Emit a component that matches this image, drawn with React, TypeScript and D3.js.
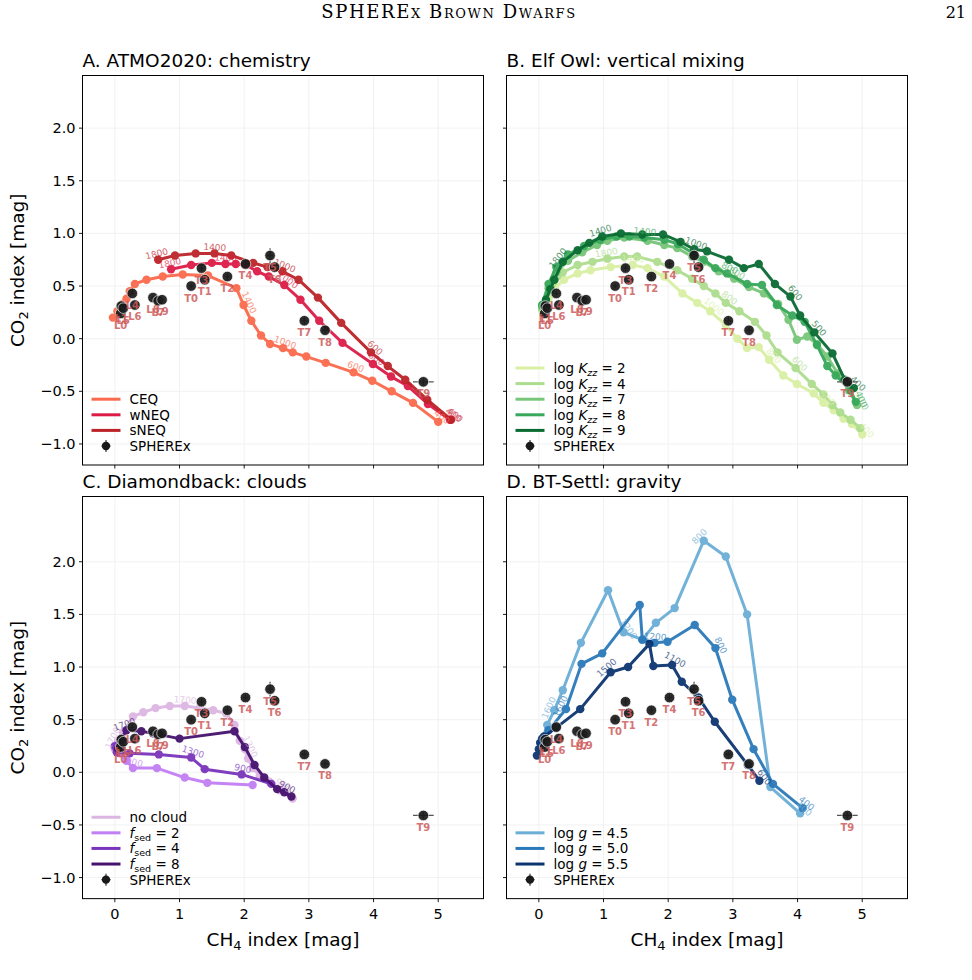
import React from "react";
import * as d3 from "d3";

const W = 972;
const H = 980;
const SANS = "'DejaVu Sans', sans-serif";

// SPHEREx spectral indices of the sample
const obsName = ["L0", "L1", "L5", "L4", "L6", "L8", "L7", "L9", "T0", "T3", "T1", "T2", "T4", "T5", "T6", "T7", "T8", "T9"];
const obsX = [0.09, 0.1, 0.13, 0.27, 0.31, 0.59, 0.67, 0.73, 1.18, 1.34, 1.39, 1.74, 2.02, 2.4, 2.47, 2.93, 3.25, 4.77];
const obsY = [0.24, 0.31, 0.29, 0.43, 0.32, 0.39, 0.36, 0.37, 0.5, 0.67, 0.56, 0.59, 0.71, 0.79, 0.68, 0.17, 0.08, -0.41];
const obsXErr = [0.03, 0.03, 0.03, 0.03, 0.03, 0.03, 0.03, 0.03, 0.03, 0.03, 0.03, 0.03, 0.04, 0.05, 0.04, 0.05, 0.05, 0.16];
const obsYErr = [0.02, 0.02, 0.02, 0.02, 0.02, 0.02, 0.02, 0.02, 0.02, 0.03, 0.03, 0.03, 0.03, 0.07, 0.03, 0.03, 0.03, 0.03];

// A. ATMO2020 chemistry grids
const ceqX = [-0.03, 0.04, 0.12, 0.18, 0.23, 0.31, 0.49, 0.74, 1.05, 1.44, 1.88, 1.99, 2.11, 2.26, 2.4, 2.6, 2.75, 2.96, 3.26, 3.69, 3.98, 4.28, 4.61, 5.0];
const ceqY = [0.2, 0.26, 0.33, 0.38, 0.45, 0.52, 0.56, 0.59, 0.61, 0.6, 0.48, 0.32, 0.17, 0.03, -0.05, -0.09, -0.13, -0.17, -0.23, -0.32, -0.4, -0.5, -0.61, -0.79];
const ceqTeff: [number, string][] = [[11, "1400"], [15, "1000"], [19, "600"], [23, "400"]];
const wneqX = [0.87, 1.18, 1.5, 1.71, 1.87, 2.03, 2.2, 2.38, 2.62, 2.87, 3.16, 3.52, 3.99, 4.27, 4.53, 4.84, 5.18];
const wneqY = [0.66, 0.7, 0.72, 0.71, 0.71, 0.7, 0.64, 0.59, 0.51, 0.37, 0.17, -0.04, -0.24, -0.36, -0.45, -0.62, -0.77];
const wneqTeff: [number, string][] = [[0, "1800"], [3, "1400"], [8, "1000"], [12, "600"], [16, "400"]];
const sneqX = [0.67, 0.93, 1.25, 1.54, 1.8, 2.14, 2.36, 2.59, 2.84, 3.14, 3.5, 3.96, 4.22, 4.49, 4.83, 5.2];
const sneqY = [0.75, 0.79, 0.81, 0.81, 0.79, 0.72, 0.68, 0.64, 0.56, 0.39, 0.15, -0.13, -0.26, -0.39, -0.58, -0.77];
const sneqTeff: [number, string][] = [[0, "1800"], [3, "1400"], [7, "1000"], [11, "600"], [15, "400"]];

// B. Elf Owl, log Kzz
const kzz2X = [0.05, 0.15, 0.25, 0.39, 0.6, 0.8, 1.11, 1.45, 1.68, 1.94, 2.22, 2.45, 2.65, 2.89, 3.07, 3.22, 3.4, 3.56, 3.78, 3.99, 4.25, 4.4, 4.56, 4.71, 4.84, 5.0];
const kzz2Y = [0.27, 0.38, 0.48, 0.56, 0.62, 0.65, 0.68, 0.7, 0.67, 0.59, 0.43, 0.34, 0.26, 0.13, 0.0, -0.09, -0.08, -0.2, -0.35, -0.43, -0.52, -0.61, -0.68, -0.76, -0.81, -0.91];
const kzz2Teff: [number, string][] = [[7, "1400"], [12, "1000"], [17, "800"], [21, "500"], [25, "400"]];
const kzz4X = [0.05, 0.18, 0.37, 0.6, 0.83, 1.06, 1.32, 1.52, 1.83, 2.14, 2.37, 2.55, 2.73, 2.89, 3.1, 3.34, 3.52, 3.69, 3.97, 4.22, 4.4, 4.54, 4.66, 4.82, 4.97];
const kzz4Y = [0.28, 0.45, 0.63, 0.7, 0.73, 0.76, 0.78, 0.78, 0.73, 0.65, 0.57, 0.5, 0.43, 0.34, 0.26, 0.16, 0.03, -0.13, -0.28, -0.43, -0.53, -0.63, -0.7, -0.77, -0.85];
const kzz4Teff: [number, string][] = [[5, "1800"], [13, "800"], [18, "600"]];
const kzz7X = [0.05, 0.15, 0.27, 0.45, 0.67, 0.9, 1.06, 1.32, 1.68, 1.94, 2.14, 2.37, 2.55, 2.78, 3.02, 3.25, 3.48, 3.7, 3.86, 3.99, 4.15, 4.3, 4.46, 4.62, 4.79, 4.92];
const kzz7Y = [0.3, 0.48, 0.63, 0.74, 0.82, 0.89, 0.93, 0.96, 0.93, 0.89, 0.86, 0.78, 0.73, 0.64, 0.57, 0.49, 0.43, 0.33, 0.18, -0.01, 0.02, -0.05, -0.17, -0.33, -0.49, -0.63];
const kzz7Teff: [number, string][] = [[14, "800"], [25, "400"]];
const kzz8X = [0.05, 0.15, 0.27, 0.45, 0.7, 0.95, 1.2, 1.4, 1.63, 1.94, 2.15, 2.39, 2.55, 2.73, 2.91, 3.22, 3.45, 3.68, 3.92, 4.11, 4.3, 4.46, 4.59, 4.82, 4.9];
const kzz8Y = [0.32, 0.52, 0.68, 0.8, 0.88, 0.94, 0.97, 0.97, 0.96, 0.94, 0.9, 0.81, 0.75, 0.67, 0.62, 0.52, 0.51, 0.32, 0.22, 0.16, -0.06, -0.26, -0.35, -0.49, -0.6];
const kzz8Teff: [number, string][] = [[8, "1400"], [14, "800"], [24, "400"]];
const kzz9X = [0.11, 0.18, 0.24, 0.37, 0.6, 0.78, 0.98, 1.27, 1.6, 1.92, 2.19, 2.4, 2.6, 2.94, 3.17, 3.4, 3.65, 3.89, 4.04, 4.26, 4.54, 4.73, 4.87];
const kzz9Y = [0.37, 0.47, 0.56, 0.73, 0.84, 0.91, 0.97, 1.0, 0.99, 0.99, 0.92, 0.85, 0.83, 0.75, 0.67, 0.71, 0.52, 0.4, 0.22, 0.06, -0.14, -0.39, -0.47];
const kzz9Teff: [number, string][] = [[3, "1800"], [6, "1400"], [11, "1000"], [17, "600"], [19, "500"], [22, "400"]];

// C. Diamondback, fsed
const noCloudX = [0.0, 0.05, 0.13, 0.28, 0.44, 0.63, 0.85, 1.08, 1.31, 1.52, 1.72, 1.85, 1.93, 2.01, 2.06, 2.13, 2.24, 2.39, 2.55, 2.75];
const noCloudY = [0.22, 0.3, 0.38, 0.53, 0.57, 0.61, 0.63, 0.63, 0.61, 0.59, 0.56, 0.45, 0.3, 0.22, 0.13, 0.04, -0.03, -0.09, -0.17, -0.25];
const noCloudTeff: [number, string][] = [[1, "1700"], [7, "1700"], [13, "1300"], [18, "900"]];
const fsed2X = [0.0, 0.08, 0.18, 0.28, 0.65, 1.08, 1.43, 2.13];
const fsed2Y = [0.24, 0.18, 0.11, 0.04, 0.04, -0.05, -0.1, -0.12];
const fsed2Teff: [number, string][] = [[3, "900"]];
const fsed4X = [0.0, 0.03, 0.23, 0.68, 1.18, 1.39, 1.96, 2.42];
const fsed4Y = [0.25, 0.19, 0.18, 0.17, 0.14, 0.03, -0.02, -0.11];
const fsed4Teff: [number, string][] = [[4, "1300"], [6, "900"]];
const fsed8X = [0.05, 0.1, 0.18, 0.41, 0.59, 1.0, 1.85, 2.01, 2.16, 2.31, 2.51, 2.62, 2.73];
const fsed8Y = [0.22, 0.32, 0.4, 0.39, 0.37, 0.32, 0.39, 0.24, 0.07, -0.05, -0.16, -0.19, -0.23];
const fsed8Teff: [number, string][] = [[2, "1700"], [11, "900"]];

// D. BT-Settl, log g
const g45X = [0.05, 0.13, 0.24, 0.37, 0.65, 1.07, 1.31, 1.6, 1.81, 2.1, 2.55, 2.89, 3.22, 3.58, 4.04];
const g45Y = [0.3, 0.45, 0.59, 0.78, 1.23, 1.73, 1.33, 1.26, 1.42, 1.56, 2.2, 2.05, 1.5, -0.14, -0.39];
const g45Teff: [number, string][] = [[2, "1600"], [6, "1200"], [10, "800"], [14, "400"]];
const g50X = [0.05, 0.15, 0.42, 0.66, 0.98, 1.56, 1.6, 1.79, 1.99, 2.41, 2.73, 2.99, 3.32, 3.62, 4.08];
const g50Y = [0.28, 0.4, 0.6, 1.03, 1.13, 1.59, 1.26, 1.23, 1.24, 1.4, 1.18, 0.69, 0.22, -0.11, -0.34];
const g50Teff: [number, string][] = [[2, "1600"], [7, "1200"], [10, "800"], [14, "400"]];
const g55X = [-0.03, 0.0, 0.02, 0.05, 0.08, 0.26, 0.64, 1.11, 1.38, 1.71, 1.77, 2.06, 2.21, 2.47, 2.72, 3.23, 3.41];
const g55Y = [0.16, 0.22, 0.28, 0.32, 0.34, 0.42, 0.6, 0.95, 1.0, 1.22, 1.01, 1.02, 0.86, 0.71, 0.48, 0.07, -0.08];
const g55Teff: [number, string][] = [[7, "1500"], [11, "1100"], [16, "600"]];

const xTicks = [0, 1, 2, 3, 4, 5];
const yTicks = [-1, -0.5, 0, 0.5, 1, 1.5, 2];
const xDomain = [-0.5, 5.7];
const yMin = -1.2;
const yMaxTop = 2.5;
const yMaxBottom = 2.62;

type Series = { label: React.ReactNode; color: string; x: number[]; y: number[]; teff: [number, string][] };

const logK = (v: number) => (
  <>
    <tspan>log </tspan>
    <tspan fontStyle="italic">K</tspan>
    <tspan fontStyle="italic" fontSize={9.5} dy={3}>zz</tspan>
    <tspan dy={-3}>{` = ${v}`}</tspan>
  </>
);
const fsed = (v: number) => (
  <>
    <tspan fontStyle="italic">f</tspan>
    <tspan fontSize={9.5} dy={3}>sed</tspan>
    <tspan dy={-3}>{` = ${v}`}</tspan>
  </>
);
const logG = (v: string) => (
  <>
    <tspan>log </tspan>
    <tspan fontStyle="italic">g</tspan>
    <tspan>{` = ${v}`}</tspan>
  </>
);

const panels: { title: string; left: number; top: number; yMax: number; series: Series[] }[] = [
  {
    title: "A. ATMO2020: chemistry",
    left: 82.5,
    top: 75.5,
    yMax: yMaxTop,
    series: [
      { label: "CEQ", color: "#fa6a4c", x: ceqX, y: ceqY, teff: ceqTeff },
      { label: "wNEQ", color: "#dc1c47", x: wneqX, y: wneqY, teff: wneqTeff },
      { label: "sNEQ", color: "#bb2329", x: sneqX, y: sneqY, teff: sneqTeff },
    ],
  },
  {
    title: "B. Elf Owl: vertical mixing",
    left: 506.5,
    top: 75.5,
    yMax: yMaxTop,
    series: [
      { label: logK(2), color: "#d9f0a3", x: kzz2X, y: kzz2Y, teff: kzz2Teff },
      { label: logK(4), color: "#addd8e", x: kzz4X, y: kzz4Y, teff: kzz4Teff },
      { label: logK(7), color: "#78c679", x: kzz7X, y: kzz7Y, teff: kzz7Teff },
      { label: logK(8), color: "#38a85a", x: kzz8X, y: kzz8Y, teff: kzz8Teff },
      { label: logK(9), color: "#0a6b32", x: kzz9X, y: kzz9Y, teff: kzz9Teff },
    ],
  },
  {
    title: "C. Diamondback: clouds",
    left: 82.5,
    top: 496.5,
    yMax: yMaxBottom,
    series: [
      { label: "no cloud", color: "#dcb6e2", x: noCloudX, y: noCloudY, teff: noCloudTeff },
      { label: fsed(2), color: "#c27ef4", x: fsed2X, y: fsed2Y, teff: fsed2Teff },
      { label: fsed(4), color: "#7a34bb", x: fsed4X, y: fsed4Y, teff: fsed4Teff },
      { label: fsed(8), color: "#45126e", x: fsed8X, y: fsed8Y, teff: fsed8Teff },
    ],
  },
  {
    title: "D. BT-Settl: gravity",
    left: 506.5,
    top: 496.5,
    yMax: yMaxBottom,
    series: [
      { label: logG("4.5"), color: "#6baed6", x: g45X, y: g45Y, teff: g45Teff },
      { label: logG("5.0"), color: "#2a79b9", x: g50X, y: g50Y, teff: g50Teff },
      { label: logG("5.5"), color: "#0c3570", x: g55X, y: g55Y, teff: g55Teff },
    ],
  },
];

const PW = 401;
const PX_PER_MAG = 105.27;

const fmt = (v: number) => (v < 0 ? "\u2212" : "") + Math.abs(v).toFixed(1);

function Panel({ p, idx }: { p: (typeof panels)[number]; idx: number }) {
  const PH = (p.yMax - yMin) * PX_PER_MAG;
  const x = d3.scaleLinear().domain(xDomain).range([p.left, p.left + PW]);
  const y = d3.scaleLinear().domain([yMin, p.yMax]).range([p.top + PH, p.top]);
  const bottom = p.top + PH;
  const showY = idx % 2 === 0;
  const showX = idx >= 2;
  const clipId = `clip${idx}`;

  const teffLabel = (s: Series, i: number, text: string, k: number) => {
    const i0 = Math.max(0, i - 1);
    const i1 = Math.min(s.x.length - 1, i + 1);
    const dx = x(s.x[i1]) - x(s.x[i0]);
    const dy = y(s.y[i1]) - y(s.y[i0]);
    let ang = (Math.atan2(dy, dx) * 180) / Math.PI;
    if (ang > 90) ang -= 180;
    if (ang < -90) ang += 180;
    const len = Math.hypot(dx, dy) || 1;
    let nx = dy / len;
    let ny = -dx / len;
    if (ny > 0) {
      nx = -nx;
      ny = -ny;
    }
    const px = x(s.x[i]) + nx * 6;
    const py = y(s.y[i]) + ny * 6;
    return (
      <text
        key={k}
        x={0}
        y={0}
        transform={`translate(${px},${py}) rotate(${ang})`}
        textAnchor="middle"
        dominantBaseline="central"
        fontSize={9}
        fill={s.color}
        opacity={0.7}
      >
        {text}
      </text>
    );
  };

  const line = (s: Series) =>
    d3
      .line<number>()
      .x((_, i) => x(s.x[i]))
      .y((v) => y(v))(s.y) ?? "";

  const nRows = p.series.length + 1;
  const rowY = (k: number) => bottom - 19 - (nRows - 1 - k) * 15.6;

  return (
    <g>
      <defs>
        <clipPath id={clipId}>
          <rect x={p.left} y={p.top} width={PW} height={PH} />
        </clipPath>
      </defs>
      <text x={p.left} y={p.top - 9} fontSize={18.5} fontFamily={SANS} fill="#000">
        {p.title}
      </text>
      <g stroke="#b0b0b0" strokeWidth={0.8} opacity={0.2}>
        {xTicks.map((t) => (
          <line key={`gx${t}`} x1={x(t)} x2={x(t)} y1={p.top} y2={bottom} />
        ))}
        {yTicks.map((t) => (
          <line key={`gy${t}`} x1={p.left} x2={p.left + PW} y1={y(t)} y2={y(t)} />
        ))}
      </g>
      <g clipPath={`url(#${clipId})`}>
        {p.series.map((s, si) => (
          <g key={si} opacity={0.95}>
            <path d={line(s)} fill="none" stroke={s.color} strokeWidth={3} strokeLinejoin="round" />
            {s.x.map((v, i) => (
              <circle key={i} cx={x(v)} cy={y(s.y[i])} r={4.2} fill={s.color} />
            ))}
          </g>
        ))}
        {p.series.map((s, si) => (
          <g key={`t${si}`} fontFamily={SANS}>
            {s.teff.map(([i, t], k) => teffLabel(s, i, t, k))}
          </g>
        ))}
        <g>
          {obsX.map((v, i) => (
            <g key={obsName[i]}>
              <line x1={x(v - obsXErr[i])} x2={x(v + obsXErr[i])} y1={y(obsY[i])} y2={y(obsY[i])} stroke="#555" strokeWidth={1.3} />
              <line x1={x(v)} x2={x(v)} y1={y(obsY[i] - obsYErr[i])} y2={y(obsY[i] + obsYErr[i])} stroke="#555" strokeWidth={1.3} />
              <circle cx={x(v)} cy={y(obsY[i])} r={5.3} fill="#1a1a1a" stroke="#fff" strokeWidth={0.7} opacity={0.92} />
            </g>
          ))}
          {obsX.map((v, i) => (
            <text
              key={`n${obsName[i]}`}
              x={x(v)}
              y={y(obsY[i]) + 15.5}
              textAnchor="middle"
              fontSize={10}
              fontWeight="bold"
              fontFamily={SANS}
              fill="#cd5c5c"
              opacity={0.85}
            >
              {obsName[i]}
            </text>
          ))}
        </g>
      </g>
      {/* legend */}
      <g fontFamily={SANS} fontSize={13.5} fill="#000">
        {p.series.map((s, k) => (
          <g key={k}>
            <line x1={p.left + 9} x2={p.left + 38} y1={rowY(k)} y2={rowY(k)} stroke={s.color} strokeWidth={3} />
            <text x={p.left + 47} y={rowY(k) + 5}>
              {s.label}
            </text>
          </g>
        ))}
        <g>
          <line x1={p.left + 19} x2={p.left + 28} y1={rowY(nRows - 1)} y2={rowY(nRows - 1)} stroke="#333" strokeWidth={1.2} />
          <line x1={p.left + 23.5} x2={p.left + 23.5} y1={rowY(nRows - 1) - 6} y2={rowY(nRows - 1) + 6} stroke="#333" strokeWidth={1.2} />
          <circle cx={p.left + 23.5} cy={rowY(nRows - 1)} r={4.2} fill="#1a1a1a" />
          <text x={p.left + 47} y={rowY(nRows - 1) + 5}>
            SPHEREx
          </text>
        </g>
      </g>
      {/* axes */}
      <rect x={p.left} y={p.top} width={PW} height={PH} fill="none" stroke="#000" strokeWidth={1} />
      <g stroke="#000" strokeWidth={0.9}>
        {xTicks.map((t) => (
          <line key={`tx${t}`} x1={x(t)} x2={x(t)} y1={bottom} y2={bottom + 3.5} />
        ))}
        {yTicks.map((t) => (
          <line key={`ty${t}`} x1={p.left - 3.5} x2={p.left} y1={y(t)} y2={y(t)} />
        ))}
      </g>
      {showX &&
        xTicks.map((t) => (
          <text key={`lx${t}`} x={x(t)} y={bottom + 20} textAnchor="middle" fontSize={14.5} fontFamily={SANS}>
            {t}
          </text>
        ))}
      {showY &&
        yTicks.map((t) => (
          <text key={`ly${t}`} x={p.left - 7} y={y(t) + 5} textAnchor="end" fontSize={14.5} fontFamily={SANS}>
            {fmt(t)}
          </text>
        ))}
      {showY && (
        <text
          transform={`translate(24,${p.top + PH / 2}) rotate(-90)`}
          textAnchor="middle"
          fontSize={18.5}
          fontFamily={SANS}
        >
          CO<tspan fontSize={13} dy={4}>2</tspan>
          <tspan dy={-4}> index [mag]</tspan>
        </text>
      )}
      {showX && (
        <text x={p.left + PW / 2} y={946} textAnchor="middle" fontSize={18.5} fontFamily={SANS}>
          CH<tspan fontSize={13} dy={4}>4</tspan>
          <tspan dy={-4}> index [mag]</tspan>
        </text>
      )}
    </g>
  );
}

export default function App() {
  return (
    <svg
      width={W}
      height={H}
      viewBox={`0 0 ${W} ${H}`}
      style={{ position: "absolute", left: 0, top: 0, background: "#fff" }}
    >
      <rect width={W} height={H} fill="#fff" />
      <text
        x={449}
        y={18}
        textAnchor="middle"
        fontSize={18}
        letterSpacing={1.6}
        fontFamily="'DejaVu Serif', serif"
        style={{ fontVariant: "small-caps" }}
      >
        SPHEREx Brown Dwarfs
      </text>
      <text x={966} y={18} textAnchor="end" fontSize={16} fontFamily="'DejaVu Serif', serif">
        21
      </text>
      {panels.map((p, i) => (
        <Panel key={i} p={p} idx={i} />
      ))}
    </svg>
  );
}
